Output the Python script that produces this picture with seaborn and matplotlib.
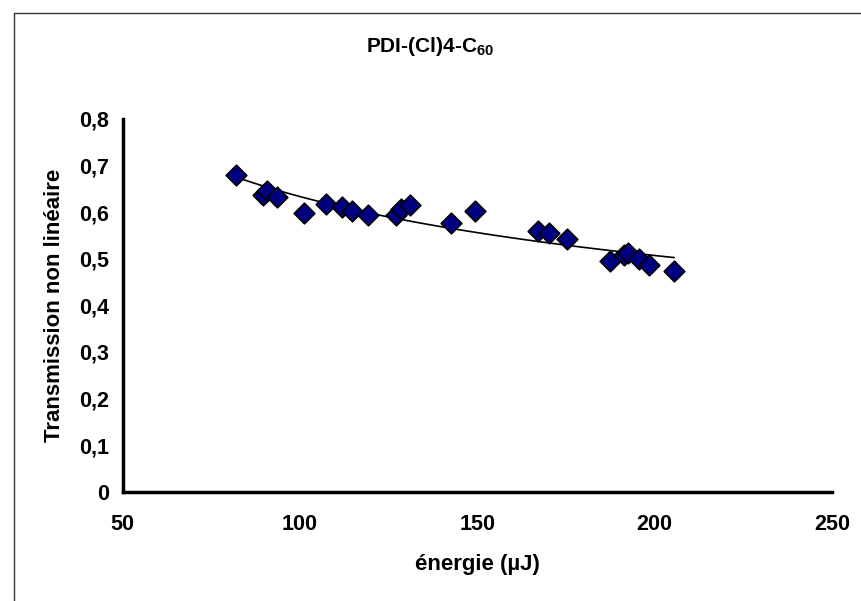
import numpy as np
import pandas as pd
import matplotlib
matplotlib.use("Agg")
import matplotlib.pyplot as plt
from matplotlib.lines import Line2D
import seaborn as sns

# valeurs
energie = [81.9, 89.5, 90.6, 93.6, 101.2, 107.3, 111.7, 114.7, 119.3, 127.1, 128.5, 131.0,
           142.5, 149.3, 167.2, 170.2, 175.2, 187.4, 191.3, 192.5, 195.5, 198.3, 205.5]
transmission = [0.680, 0.637, 0.645, 0.632, 0.599, 0.617, 0.612, 0.603, 0.594, 0.594, 0.606, 0.615,
                0.577, 0.603, 0.560, 0.556, 0.542, 0.495, 0.508, 0.512, 0.499, 0.486, 0.474]
x_ticks = [50, 100, 150, 200, 250]
y_ticks = [0, 0.1, 0.2, 0.3, 0.4, 0.5, 0.6, 0.7, 0.8]
y_tick_labels = ["0", "0,1", "0,2", "0,3", "0,4", "0,5", "0,6", "0,7", "0,8"]

df = pd.DataFrame({"energie": energie, "T": transmission})

# courbe de tendance type puissance (comme Excel)
b, ln_a = np.polyfit(np.log(df["energie"]), np.log(df["T"]), 1)
xf = np.linspace(df["energie"].min(), df["energie"].max(), 100)
fit = pd.DataFrame({"energie": xf, "T": np.exp(ln_a) * xf ** b})

sns.set_style("white")
plt.rcParams["font.family"] = ["Liberation Sans", "DejaVu Sans"]
plt.rcParams["font.weight"] = "bold"
plt.rcParams["text.color"] = "black"
plt.rcParams["axes.labelcolor"] = "black"
plt.rcParams["xtick.color"] = "black"
plt.rcParams["ytick.color"] = "black"
plt.rcParams["mathtext.fontset"] = "custom"
plt.rcParams["mathtext.bf"] = "Liberation Sans:bold"
plt.rcParams["mathtext.rm"] = "Liberation Sans:bold"

fig = plt.figure(figsize=(8.61, 6.01), dpi=100)
ax = fig.add_axes([0.1425, 0.182, 0.8238, 0.620])

sns.lineplot(data=fit, x="energie", y="T", ax=ax, color="black", linewidth=1.2)
sns.scatterplot(data=df, x="energie", y="T", ax=ax, marker="D", s=110,
                color="#000080", edgecolor="black", linewidth=1.2, zorder=3)

ax.set_xlim(50, 250)
ax.set_ylim(0, 0.8)
ax.set_xticks(x_ticks)
ax.set_yticks(y_ticks)
ax.set_yticklabels(y_tick_labels)
ax.tick_params(axis="both", direction="out", length=5, width=2, labelsize=15.5,
               color="black", labelcolor="black")
ax.tick_params(axis="x", pad=11)
ax.tick_params(axis="y", pad=5)
for lab in ax.get_xticklabels() + ax.get_yticklabels():
    lab.set_fontweight("bold")

for side in ["top", "right"]:
    ax.spines[side].set_visible(False)
for side in ["left", "bottom"]:
    ax.spines[side].set_linewidth(2.5)
    ax.spines[side].set_color("black")

ax.set_xlabel("énergie (µJ)", fontsize=16, fontweight="bold", labelpad=14)
ax.set_ylabel("Transmission non linéaire", fontsize=16, fontweight="bold", labelpad=10)

fig.text(0.5, 0.922, r"PDI-(Cl)4-C$_{\mathbf{60}}$", ha="center", va="center",
         fontsize=15, fontweight="bold")

# cadre du graphique (coupé à droite et en bas)
fig.add_artist(Line2D([14 / 861, 1], [1 - 13 / 601, 1 - 13 / 601], color="#333333", linewidth=1,
                      transform=fig.transFigure))
fig.add_artist(Line2D([14 / 861, 14 / 861], [0, 1 - 13 / 601], color="#333333", linewidth=1,
                      transform=fig.transFigure))

fig.savefig("out.png", dpi=100)
